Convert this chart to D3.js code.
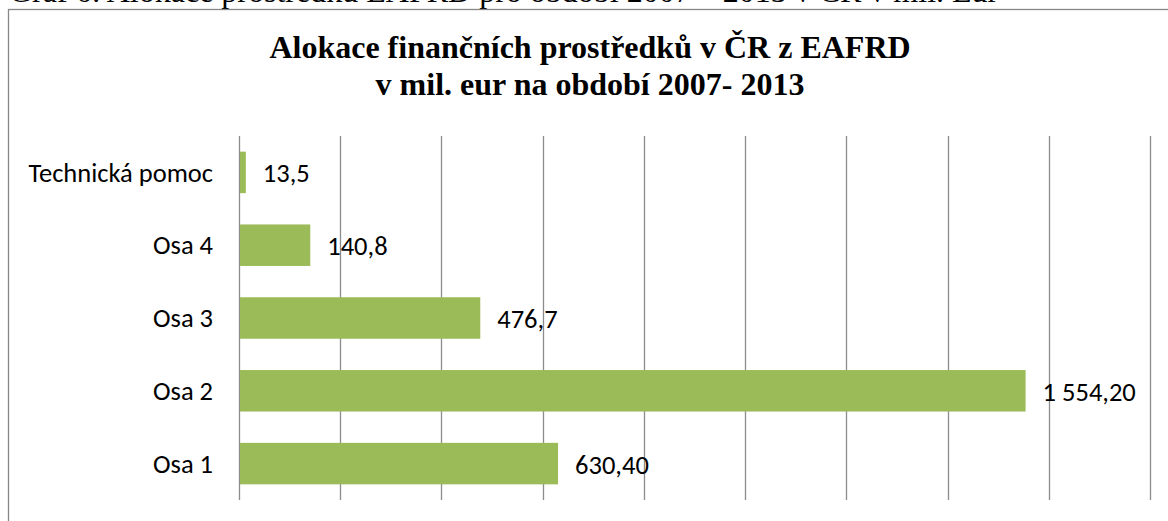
<!DOCTYPE html>
<html>
<head>
<meta charset="utf-8">
<script src="https://cdn.jsdelivr.net/npm/d3@7"></script>
<style>
  body { margin: 0; background: #fff; overflow: hidden; }
  svg { display: block; }
</style>
</head>
<body>
<div id="chart"></div>
<script>
// data
var categories = ['Technická pomoc', 'Osa 4', 'Osa 3', 'Osa 2', 'Osa 1'];
var values = [13.5, 140.8, 476.7, 1554.2, 630.4];
var valueLabels = ['13,5', '140,8', '476,7', '1 554,20', '630,40'];
var xTicks = [0, 200, 400, 600, 800, 1000, 1200, 1400, 1600, 1800];
var titleLines = ['Alokace finančních prostředků v ČR z EAFRD', 'v mil. eur na období 2007- 2013'];
var caption = 'Graf 6: Alokace prostředků EAFRD pro období 2007 – 2013 v ČR v mil. Eur';

var width = 1168, height = 521;
var plot = { left: 239, right: 1150, top: 136, bottom: 500 };

var svg = d3.select('#chart').append('svg')
    .attr('width', width)
    .attr('height', height);

// caption above the chart box, mostly cut off at the top
svg.append('text')
    .attr('x', 9)
    .attr('y', 2)
    .style('font-family', '"Liberation Serif", "Times New Roman", serif')
    .style('font-size', '32px')
    .text(caption);

// chart box (right and bottom edges fall outside the picture)
svg.append('rect')
    .attr('x', 8.5)
    .attr('y', 9.5)
    .attr('width', 1180)
    .attr('height', 540)
    .style('fill', 'none')
    .style('stroke', '#878787')
    .style('stroke-width', '1.3px');

var x = d3.scaleLinear()
    .domain([0, 1800])
    .range([plot.left, plot.right]);

var y = d3.scaleBand()
    .domain(categories)
    .range([plot.top, plot.bottom])
    .paddingInner(0.43)
    .paddingOuter(0.215);

// vertical gridlines
svg.append('g')
    .selectAll('line')
    .data(xTicks)
    .enter().append('line')
    .attr('x1', d => Math.round(x(d)) + 0.5)
    .attr('x2', d => Math.round(x(d)) + 0.5)
    .attr('y1', plot.top)
    .attr('y2', plot.bottom)
    .style('stroke', '#8c8c8c')
    .style('stroke-width', '1.3px');

// bars
svg.append('g')
    .selectAll('rect')
    .data(values)
    .enter().append('rect')
    .attr('x', x(0) + 1)
    .attr('y', (d, i) => y(categories[i]))
    .attr('width', d => x(d) - x(0) - 1)
    .attr('height', y.bandwidth())
    .style('fill', '#9bbb59');

// category labels
var labelFont = 'Carlito, Lato, "Open Sans", sans-serif';
svg.append('g')
    .selectAll('text')
    .data(categories)
    .enter().append('text')
    .attr('x', x(0) - 26)
    .attr('y', d => y(d) + y.bandwidth() / 2)
    .attr('dy', '0.35em')
    .attr('text-anchor', 'end')
    .style('font-family', labelFont)
    .style('font-size', '26.5px')
    .style('fill', '#000')
    .text(d => d);

// value labels
svg.append('g')
    .selectAll('text')
    .data(values)
    .enter().append('text')
    .attr('x', d => x(d) + 17)
    .attr('y', (d, i) => y(categories[i]) + y.bandwidth() / 2)
    .attr('dy', '0.38em')
    .style('font-family', labelFont)
    .style('font-size', '26.5px')
    .style('fill', '#000')
    .text((d, i) => valueLabels[i]);

// title
svg.append('g')
    .selectAll('text')
    .data(titleLines)
    .enter().append('text')
    .attr('x', 590)
    .attr('y', (d, i) => 58 + i * 37)
    .attr('text-anchor', 'middle')
    .style('font-family', '"Liberation Serif", "Times New Roman", serif')
    .style('font-weight', 'bold')
    .style('font-size', '32px')
    .text(d => d);
</script>
</body>
</html>
